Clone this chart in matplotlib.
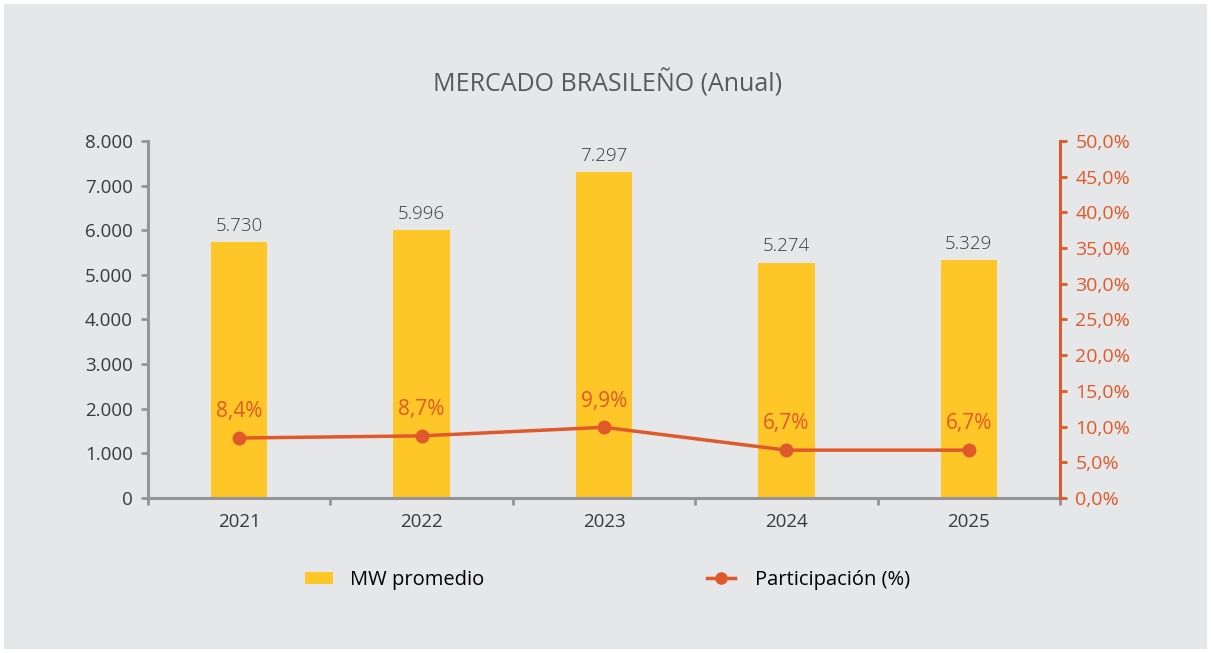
import matplotlib.pyplot as plt
from matplotlib.patches import Rectangle
from matplotlib.lines import Line2D
from matplotlib.patches import Patch

# datos
anos = ["2021", "2022", "2023", "2024", "2025"]
mw_promedio = [5730, 5996, 7297, 5274, 5329]
participacion = [8.4, 8.7, 9.9, 6.7, 6.7]

amarillo = "#FFC627"
naranja = "#E0592A"
gris = "#939598"
fondo = "#E6E7E9"
texto = "#3A3A3C"

plt.rcParams["font.family"] = ["Open Sans", "DejaVu Sans"]

fig = plt.figure(figsize=(12.11, 6.53), dpi=100, facecolor="white")
fig.patches.append(Rectangle((4 / 1211, 4 / 653), 1 - 8 / 1211, 1 - 8 / 653,
                             transform=fig.transFigure, facecolor=fondo,
                             edgecolor="none", zorder=-10))

ax = fig.add_axes([0.1222, 0.2374, 0.7531, 0.5467])
ax.set_facecolor("none")
x = list(range(len(anos)))
ax.bar(x, mw_promedio, width=0.31, color=amarillo, zorder=2)
for xi, v in zip(x, mw_promedio):
    ax.text(xi, v + 170, f"{v:,}".replace(",", "."), ha="center", va="bottom",
            fontsize=13.5, color=texto, fontweight="light")

ax.set_xlim(-0.5, len(anos) - 0.5)
ax.set_ylim(0, 8000)
ax.set_yticks(range(0, 8001, 1000))
ax.set_yticklabels([f"{v:,}".replace(",", ".") for v in range(0, 8001, 1000)])
ax.set_xticks([i - 0.5 for i in range(len(anos) + 1)])
ax.set_xticklabels([])
ax.set_xticks(x, minor=True)
ax.set_xticklabels(anos, minor=True)
ax.tick_params(axis="x", which="minor", length=0, pad=11, labelsize=13.5, labelcolor=texto)
ax.tick_params(axis="x", which="major", length=5, width=2, color=gris, direction="out")
ax.tick_params(axis="y", length=5, width=2, color=gris, labelsize=13.5, labelcolor=texto, pad=6)
for s in ["top", "right"]:
    ax.spines[s].set_visible(False)
for s in ["left", "bottom"]:
    ax.spines[s].set_color(gris)
    ax.spines[s].set_linewidth(2.2)

ax2 = ax.twinx()
ax2.plot(x, participacion, color=naranja, linewidth=2.5, marker="o", markersize=9, zorder=3)
for xi, v in zip(x, participacion):
    ax2.text(xi, v + 2.2, f"{v:.1f}%".replace(".", ","), ha="center", va="bottom",
             fontsize=15, color=naranja)
ax2.set_ylim(0, 50)
ax2.set_yticks(range(0, 51, 5))
ax2.set_yticklabels([f"{v:.1f}%".replace(".", ",") for v in range(0, 51, 5)])
ax2.tick_params(axis="y", length=5, width=2, color=naranja, labelsize=14,
                labelcolor=naranja, pad=6)
for s in ["top", "left", "bottom"]:
    ax2.spines[s].set_visible(False)
ax2.spines["right"].set_color(naranja)
ax2.spines["right"].set_linewidth(2.2)

fig.text(0.502, 0.873, "MERCADO BRASILEÑO (Anual)", ha="center", va="center",
         fontsize=18, color="#58595B")

fig.legend([Patch(facecolor=amarillo, edgecolor="none")], ["MW promedio"],
           loc="center left", bbox_to_anchor=(305 / 1211, 1 - 580 / 653),
           frameon=False, fontsize=14.5, borderpad=0, borderaxespad=0,
           handlelength=1.4, handleheight=0.5, handletextpad=0.85)
fig.legend([Line2D([0], [0], color=naranja, linewidth=2.5, marker="o", markersize=8)],
           ["Participación (%)"], loc="center left",
           bbox_to_anchor=(707 / 1211, 1 - 580 / 653), frameon=False, fontsize=14.5,
           borderpad=0, borderaxespad=0, handlelength=1.4, handletextpad=1.0)

fig.savefig("out.png", dpi=100, facecolor="white")
